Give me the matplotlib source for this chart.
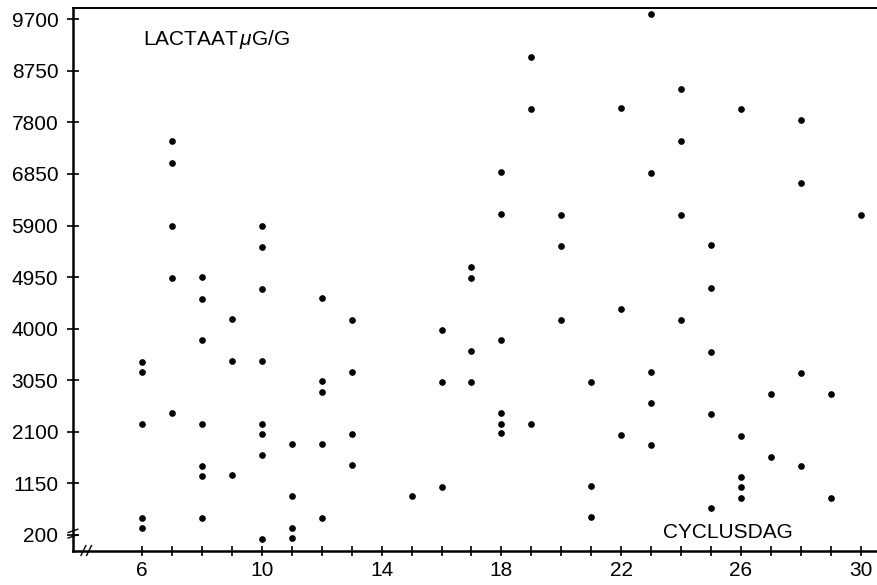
import matplotlib
matplotlib.use("Agg")
import matplotlib.pyplot as plt
from matplotlib.ticker import FixedLocator

plt.rcParams['font.family'] = ['Liberation Sans', 'DejaVu Sans']
plt.rcParams['mathtext.fontset'] = 'custom'
plt.rcParams['mathtext.it'] = 'Liberation Sans:italic'
plt.rcParams['mathtext.rm'] = 'Liberation Sans'

# ==========================================================
# Data: lactaat (ug/g) per cyclusdag
# ==========================================================
days = [6] * 5 + [7] * 5 + [8] * 7 + [9] * 3 + [10] * 8 + [11] * 4 \
    + [12] * 5 + [13] * 4 + [15] + [16] * 3 + [17] * 4 + [18] * 6 \
    + [19] * 3 + [20] * 3 + [21] * 3 + [22] * 3 + [23] * 5 + [24] * 4 \
    + [25] * 5 + [26] * 5 + [27] * 2 + [28] * 4 + [29] * 2 + [30]

lactaat = [
    3390, 3200, 2250, 520, 335,                 # dag 6
    7450, 7060, 5900, 4940, 2440,               # dag 7
    4950, 4550, 3790, 2245, 1480, 1295, 520,    # dag 8
    4180, 3410, 1300,                           # dag 9
    5900, 5500, 4740, 3405, 2245, 2060, 1675, 130,  # dag 10
    1870, 920, 330, 140,                        # dag 11
    4565, 3035, 2830, 1870, 520,                # dag 12
    4165, 3200, 2060, 1485,                     # dag 13
    920,                                        # dag 15
    3980, 3020, 1090,                           # dag 16
    5140, 4940, 3590, 3015,                     # dag 17
    6890, 6120, 3790, 2440, 2250, 2070,         # dag 18
    9010, 8040, 2250,                           # dag 19
    6100, 5530, 4165,                           # dag 20
    3020, 1110, 540,                            # dag 21
    8065, 4370, 2045,                           # dag 22
    9790, 6865, 3200, 2640, 1860,               # dag 23
    8420, 7455, 6090, 4160,                     # dag 24
    5545, 4755, 3575, 2435, 705,                # dag 25
    8040, 2030, 1265, 1080, 885,                # dag 26
    2790, 1630,                                 # dag 27
    7845, 6680, 3180, 1470,                     # dag 28
    2790, 875,                                  # dag 29
    6095,                                       # dag 30
]

y_ticks = [200, 1150, 2100, 3050, 4000, 4950, 5900, 6850, 7800, 8750, 9700]
x_ticks = [6, 10, 14, 18, 22, 26, 30]
x_minor = [d for d in range(7, 30) if d not in x_ticks]

# ==========================================================
# Plot
# ==========================================================
fig = plt.figure(figsize=(8.77, 5.85), dpi=100)
ax = fig.add_axes([0.0832, 0.0581, 0.9168, 0.9282])

ax.plot(days, lactaat, 'o', color='black', markersize=3.8, linestyle='none')

ax.set_xlim(3.685, 30.55)
ax.set_ylim(-95, 9907)

ax.yaxis.set_major_locator(FixedLocator(y_ticks))
ax.xaxis.set_major_locator(FixedLocator(x_ticks))
ax.xaxis.set_minor_locator(FixedLocator(x_minor))

ax.tick_params(axis='y', which='major', direction='inout', length=9,
               width=1.2, labelsize=15, pad=6)
ax.tick_params(axis='x', which='both', direction='inout', length=7,
               width=1.2, labelsize=15, pad=4)

for side in ['left', 'bottom']:
    ax.spines[side].set_linewidth(1.8)
ax.spines['top'].set_linewidth(1.4)
ax.spines['right'].set_visible(False)

# labels inside the frame
ax.text(0.087, 0.932, r'LACTAAT$\,\mu$G/G', transform=ax.transAxes,
        fontsize=15, ha='left', va='baseline')
ax.text(0.734, 0.024, 'CYCLUSDAG', transform=ax.transAxes,
        fontsize=15, ha='left', va='baseline')

# axis break marks at the bottom left corner
br = dict(transform=ax.transAxes, color='black', linewidth=1.0,
          clip_on=False)
ax.plot([0.010, 0.016], [-0.008, 0.010], **br)
ax.plot([0.017, 0.023], [-0.008, 0.010], **br)
ax.plot([-0.006, 0.006], [0.024, 0.030], **br)
ax.plot([-0.006, 0.006], [0.034, 0.040], **br)

fig.savefig('out.png', dpi=100)
